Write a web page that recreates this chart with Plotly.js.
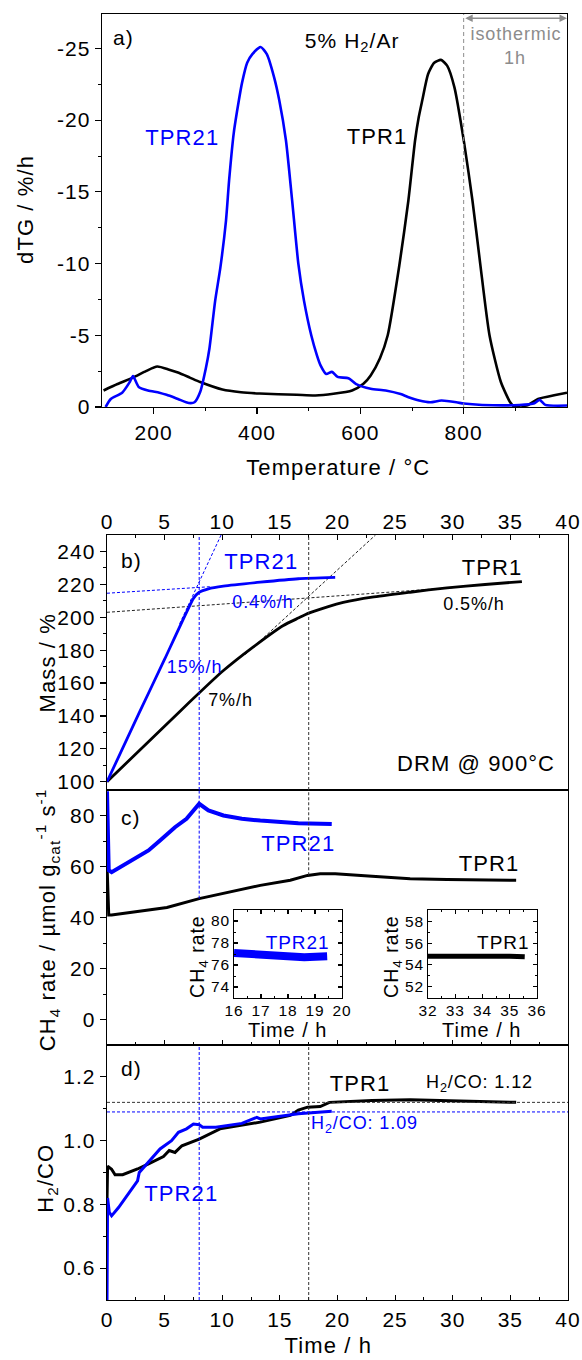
<!DOCTYPE html>
<html><head><meta charset="utf-8">
<script src="https://cdn.plot.ly/plotly-3.0.1.min.js"></script>
<style>html,body{margin:0;padding:0;background:#fff}#chart{width:582px;height:1360px}
#chart svg text{letter-spacing:0.05em}</style>
</head><body><div id="chart"></div>
<script>
// ---------------- DATA ----------------
// a) dTG vs temperature
const tempTPR1 = [103,130,160,185,207,230,247,270,290,333,369,405,477,513,548,584,606,620,638,653,676,693,706,713,720,731,743,756,768,782,801,817,832,850,872,890,897,910,922,944,980,1000];
const dtgTPR1  = [-1.15,-1.6,-2.05,-2.5,-2.82,-2.6,-2.4,-2.05,-1.74,-1.22,-1.03,-0.94,-0.85,-0.8,-0.92,-1.15,-1.62,-2.2,-3.4,-5.0,-10,-14.4,-18.6,-20.2,-21.4,-23.2,-24.0,-24.2,-23.8,-22.3,-18.4,-14.4,-10,-5,-1.74,-0.33,-0.05,-0.1,-0.1,-0.56,-0.85,-1.0];
const tempTPR21 = [107,117,139,153,160,171,189,211,225,247,268,279,290,301,308,319,329,340,346,355,365,371,381,391,407,419,433,443,456,468,480,491,505,516,523,534,545,556,577,592,620,649,678,692,714,735,757,786,800,836,908,937,947,958,1000];
const dtgTPR21  = [0,-0.56,-1.0,-1.7,-2.15,-1.4,-1.15,-1.0,-0.85,-0.56,-0.28,-0.33,-1.04,-2.7,-4.1,-7.4,-9.7,-13.0,-15.8,-19.1,-21.4,-22.6,-24.0,-24.6,-25.1,-24.6,-23.0,-21.4,-18.6,-14.4,-10,-7.4,-5.0,-3.6,-2.9,-2.3,-2.45,-2.1,-2.0,-1.6,-1.27,-1.15,-0.9,-0.7,-0.45,-0.33,-0.45,-0.33,-0.24,-0.14,-0.14,-0.26,-0.5,-0.15,-0.1];
const isoStart = 800, isoEnd = 1000;

// b) mass vs time
const timeMass21 = [0,2.8,5,7.5,8.0,8.8,10.1,13.3,16.6,19.8];
const mass21     = [100,142,174.5,211.5,215.2,217.3,218.9,221.3,223.4,224.2];
const timeMass1  = [0,6.5,10,12.7,15.3,16.6,17.5,19.2,20.5,23,26.3,29.5,32.8,36];
const mass1      = [100,144,167,182,195,199.5,202.5,206.5,209,212.2,215.2,217.9,219.9,221.7];
const tan21SteepT = [6.3,9.9],  tan21SteepM = [196,250];
const tan21FlatT  = [0,9],      tan21FlatM  = [214.6,218.6];
const tan1SteepT  = [12.0,23.3],tan1SteepM  = [177.4,250];
const tan1FlatT   = [0,30],     tan1FlatM   = [203,218];
const refTime21 = 8, refTime1 = 17.5;

// c) CH4 rate vs time
const timeCH4_21 = [0,0.15,0.4,1.4,2.65,3.6,4.6,5.9,6.9,8.0,8.8,10.1,11.7,13.3,16.6,19.5];
const ch4_21     = [89.5,58.5,57.8,60.5,63.7,66.3,70.2,75.4,78.7,84.6,82,80,78.7,78,77,76.7];
const timeCH4_1  = [0,0.15,0.4,3.6,5.2,8,10.1,13.3,15.9,17.4,18.5,19.8,23,26.3,29.5,35.5];
const ch4_1      = [61,41,41,42.9,43.9,47.4,49.4,52.6,54.6,56.5,57.2,57.2,56.2,55.2,54.9,54.6];
// insets
const inset21T = [16,16.8,17.7,18.6,19.45], inset21V = [77.1,76.95,76.7,76.7,76.8];
const inset1T  = [32,33,34,35,35.55],       inset1V  = [54.8,54.85,54.8,54.8,54.75];

// d) H2/CO vs time
const timeRatio1 = [0,0.05,0.4,0.7,1.36,2.65,3.6,4.9,5.4,5.9,6.5,8.0,9.8,13.3,15.9,16.6,17.4,18.5,19.3,23,26.3,29.5,35.5];
const ratio1     = [0.81,0.92,0.91,0.893,0.893,0.911,0.927,0.95,0.969,0.963,0.984,1.005,1.037,1.058,1.079,1.096,1.105,1.107,1.12,1.126,1.128,1.126,1.12];
const timeRatio21 = [0,0.05,0.2,0.4,1.0,2.0,2.65,2.8,3.6,4.6,5.6,6.2,6.9,7.5,8.0,8.3,9.45,11.7,13.0,13.3,16.6,19.5];
const ratio21     = [0.5,0.82,0.775,0.764,0.79,0.843,0.874,0.9,0.932,0.974,1.0,1.026,1.037,1.052,1.05,1.042,1.042,1.054,1.073,1.068,1.084,1.092];
const ratioRef1 = 1.12, ratioRef21 = 1.09;

// ticks
const tempTicks = [200,400,600,800], tempMinor = [300,500,700,900];
const dtgTicks = [0,-5,-10,-15,-20,-25], dtgTickText = ['0','-5','-10','-15','-20','-25'], dtgMinor = [-2.5,-7.5,-12.5,-17.5,-22.5];
const timeTicks = [0,5,10,15,20,25,30,35,40], timeMinor = [2.5,7.5,12.5,17.5,22.5,27.5,32.5,37.5];
const massTicks = [100,120,140,160,180,200,220,240], massMinor = [110,130,150,170,190,210,230];
const ch4Ticks = [0,20,40,60,80], ch4Minor = [10,30,50,70];
const ratioTicks = [0.6,0.8,1.0,1.2], ratioTickText = ['0.6','0.8','1.0','1.2'], ratioMinor = [0.7,0.9,1.1];
const in1XTicks = [16,17,18,19,20], in1XMinor = [16.5,17.5,18.5,19.5], in1YTicks = [74,76,78,80], in1YMinor = [75,77,79];
const in2XTicks = [32,33,34,35,36], in2XMinor = [32.5,33.5,34.5,35.5], in2YTicks = [52,54,56,58], in2YMinor = [53,55,57];

// ---------------- LAYOUT HELPERS ----------------
const W = 582, H = 1360;
const PX = x => x / W, PY = y => 1 - y / H;
const FONT = 'Arial, "Liberation Sans", sans-serif';
const BLUE = '#0000ff', BLACK = '#000000', GRAY = '#8c8c8c';

const XA = [PX(102), PX(567)], XB = [PX(107), PX(568)];
const YA = [PY(407), PY(14)], YBd = [PY(790), PY(535)], YC = [PY(1045), PY(790)], YD = [PY(1300), PY(1045)];
const XI1 = [PX(234), PX(342)], XI2 = [PX(428), PX(537)], YI = [PY(998), PY(910)];

function ax(o) {
  const a = {
    showgrid: false, zeroline: false, showline: true, linecolor: '#000', linewidth: 1.3,
    tickcolor: '#000', tickwidth: 1.2, ticklen: 6, fixedrange: true,
    tickfont: {family: FONT, size: 21, color: '#000'}, tickmode: 'array'
  };
  return Object.assign(a, o);
}
function minor(vals, ticks, len) { return {tickmode: 'array', tickvals: vals, ticks: ticks, ticklen: len, tickcolor: '#000', tickwidth: 1}; }

function interp(xs, ys, x) {
  for (let i = 1; i < xs.length; i++) if (x <= xs[i]) { const f = (x - xs[i-1]) / (xs[i] - xs[i-1]); return ys[i-1] + f * (ys[i] - ys[i-1]); }
  return ys[ys.length - 1];
}
const insetFont = {family: FONT, size: 15.5, color: '#000'};

const layout = {
  width: W, height: H, margin: {l: 0, r: 0, t: 0, b: 0},
  paper_bgcolor: '#fff', plot_bgcolor: 'rgba(0,0,0,0)', showlegend: false,
  font: {family: FONT, color: '#000'},
  // panel a
  xaxis: ax({domain: XA, anchor: 'y', range: [100, 1000], tickvals: tempTicks, ticks: 'outside', ticklen: 6, mirror: true, minor: minor(tempMinor, 'outside', 3)}),
  xaxis2: ax({overlaying: 'x', side: 'top', anchor: 'y', range: [100, 1000], tickvals: tempTicks, ticks: 'inside', ticklen: 6, showline: false, showticklabels: false}),
  yaxis: ax({domain: YA, anchor: 'x', range: [0, -27.4], tickvals: dtgTicks, ticktext: dtgTickText, ticks: 'outside', ticklen: 6, mirror: true, minor: minor(dtgMinor, 'outside', 3)}),
  yaxis2: ax({overlaying: 'y', side: 'right', anchor: 'x', range: [0, -27.4], tickvals: dtgTicks, ticks: 'inside', ticklen: 6, showline: false, showticklabels: false, minor: minor(dtgMinor, 'inside', 6)}),
  // panel b
  xaxis3: ax({domain: XB, anchor: 'y3', side: 'top', range: [0, 40], tickvals: timeTicks, ticks: 'inside', ticklen: 5, mirror: true, ticklabelstandoff: -4, minor: minor(timeMinor, 'inside', 3)}),
  xaxis4: ax({overlaying: 'x3', side: 'bottom', anchor: 'y3', range: [0, 40], tickvals: timeTicks, ticks: 'inside', ticklen: 5, showline: false, showticklabels: false, minor: minor(timeMinor, 'inside', 3)}),
  yaxis3: ax({domain: YBd, anchor: 'x3', range: [95, 250], tickvals: massTicks, ticks: 'outside', ticklen: 6, mirror: true, minor: minor(massMinor, 'outside', 3)}),
  yaxis4: ax({overlaying: 'y3', side: 'right', anchor: 'x3', range: [95, 250], tickvals: massTicks, ticks: 'inside', ticklen: 5, showline: false, showticklabels: false, minor: minor(massMinor, 'inside', 3)}),
  // panel c
  xaxis5: ax({domain: XB, anchor: 'y5', range: [0, 40], tickvals: timeTicks, ticks: 'inside', ticklen: 5, mirror: true, showticklabels: false, minor: minor(timeMinor, 'inside', 3)}),
  yaxis5: ax({domain: YC, anchor: 'x5', range: [-10, 90], tickvals: ch4Ticks, ticks: 'outside', ticklen: 6, mirror: true, minor: minor(ch4Minor, 'outside', 3)}),
  yaxis6: ax({overlaying: 'y5', side: 'right', anchor: 'x5', range: [-10, 90], tickvals: ch4Ticks, ticks: 'inside', ticklen: 5, showline: false, showticklabels: false, minor: minor(ch4Minor, 'inside', 3)}),
  // panel d
  xaxis6: ax({domain: XB, anchor: 'y7', range: [0, 40], tickvals: timeTicks, ticks: 'inside', ticklen: 5, mirror: true, minor: minor(timeMinor, 'inside', 3)}),
  yaxis7: ax({domain: YD, anchor: 'x6', range: [0.5, 1.3], tickvals: ratioTicks, ticktext: ratioTickText, ticks: 'outside', ticklen: 6, mirror: true, minor: minor(ratioMinor, 'outside', 3)}),
  yaxis8: ax({overlaying: 'y7', side: 'right', anchor: 'x6', range: [0.5, 1.3], tickvals: ratioTicks, ticks: 'inside', ticklen: 5, showline: false, showticklabels: false, minor: minor(ratioMinor, 'inside', 3)}),
  // insets
  xaxis7: ax({domain: XI1, anchor: 'y9', range: [16, 20], tickvals: in1XTicks, ticks: 'inside', ticklen: 4, linewidth: 1, mirror: 'allticks', tickfont: insetFont, ticklabelstandoff: -2, minor: minor(in1XMinor, 'inside', 2)}),
  yaxis9: ax({domain: YI, anchor: 'x7', range: [73, 81], tickvals: in1YTicks, ticks: 'inside', ticklen: 4, linewidth: 1, mirror: 'allticks', tickfont: insetFont, minor: minor(in1YMinor, 'inside', 2)}),
  xaxis8: ax({domain: XI2, anchor: 'y10', range: [32, 36], tickvals: in2XTicks, ticks: 'inside', ticklen: 4, linewidth: 1, mirror: 'allticks', tickfont: insetFont, ticklabelstandoff: -2, minor: minor(in2XMinor, 'inside', 2)}),
  yaxis10: ax({domain: YI, anchor: 'x8', range: [50.9, 59.1], tickvals: in2YTicks, ticks: 'inside', ticklen: 4, linewidth: 1, mirror: 'allticks', tickfont: insetFont, minor: minor(in2YMinor, 'inside', 2)}),
  shapes: [], annotations: []
};

// ---------------- TRACES ----------------
const L = (x, y, xa, ya, color, width, extra) => Object.assign({type: 'scatter', mode: 'lines', x: x, y: y, xaxis: xa, yaxis: ya, line: {color: color, width: width}, hoverinfo: 'skip', cliponaxis: true}, extra || {});
const dashed = (x, y, xa, ya, color) => L(x, y, xa, ya, color, 1, {line: {color: color, width: 1, dash: '3px,2px'}});

const traces = [
  L(tempTPR1, dtgTPR1, 'x', 'y', BLACK, 2.6, {line: {color: BLACK, width: 2.6, shape: 'spline', smoothing: 0.6}}),
  L(tempTPR21, dtgTPR21, 'x', 'y', BLUE, 2.6, {line: {color: BLUE, width: 2.6, shape: 'spline', smoothing: 0.6}}),
  // b
  dashed(tan21SteepT, tan21SteepM, 'x3', 'y3', BLUE),
  dashed(tan21FlatT, tan21FlatM, 'x3', 'y3', BLUE),
  dashed(tan1SteepT, tan1SteepM, 'x3', 'y3', '#222'),
  dashed(tan1FlatT, tan1FlatM, 'x3', 'y3', '#222'),
  L(timeMass1, mass1, 'x3', 'y3', BLACK, 2.8, {line: {color: BLACK, width: 2.8, shape: 'spline', smoothing: 0.5}}),
  L(timeMass21, mass21, 'x3', 'y3', BLUE, 2.8, {line: {color: BLUE, width: 2.8, shape: 'spline', smoothing: 0.4}}),
  // c
  L(timeCH4_1, ch4_1, 'x5', 'y5', BLACK, 3),
  L(timeCH4_21, ch4_21, 'x5', 'y5', BLUE, 4),
  // d
  L(timeRatio1, ratio1, 'x6', 'y7', BLACK, 3),
  L(timeRatio21, ratio21, 'x6', 'y7', BLUE, 3),
  // insets
  L(inset21T, inset21V, 'x7', 'y9', BLUE, 8),
  L(inset1T, inset1V, 'x8', 'y10', BLACK, 5)
];

// ---------------- SHAPES ----------------
const vline = (xref, x, yref, y0, y1, color, dash) => ({type: 'line', xref: xref, yref: yref, x0: x, x1: x, y0: y0, y1: y1, line: {color: color, width: 1, dash: dash}});
const hline = (yref, y, color) => ({type: 'line', xref: 'x6 domain', yref: yref, x0: 0, x1: 1, y0: y, y1: y, line: {color: color, width: 1, dash: '3px,2px'}});
layout.shapes.push(
  vline('x', isoStart, 'y domain', 0, 1, GRAY, '4px,3px'),
  vline('x3', refTime21, 'y3 domain', 0, 1, BLUE, '3px,2px'),
  vline('x3', refTime1, 'y3 domain', 0, 1, '#333', '3px,2px'),
  vline('x5', refTime21, 'y5', interp(timeCH4_1, ch4_1, refTime21), 90, BLUE, '3px,2px'),
  vline('x5', refTime1, 'y5', interp(timeCH4_1, ch4_1, refTime1), 90, '#333', '3px,2px'),
  vline('x6', refTime21, 'y7 domain', 0, 1, BLUE, '3px,2px'),
  vline('x6', refTime1, 'y7 domain', 0, 1, '#333', '3px,2px'),
  hline('y7', ratioRef1, '#333'),
  hline('y7', ratioRef21, BLUE)
);

// ---------------- ANNOTATIONS ----------------
function T(text, x, y, size, color, extra) {
  return Object.assign({text: text, xref: 'paper', yref: 'paper', x: PX(x), y: PY(y), xanchor: 'center', yanchor: 'middle', showarrow: false, font: {family: FONT, size: size, color: color || '#000'}}, extra || {});
}
layout.annotations.push(
  // axis titles
  T('dTG / %/h', 25, 210, 22, '#000', {textangle: -90}),
  T('Temperature / °C', 338, 467, 22),
  T('Mass / %', 47, 663, 22, '#000', {textangle: -90}),
  T('CH<sub>4</sub> rate / µmol g<sub>cat</sub><sup>-1</sup> s<sup>-1</sup>', 47, 920, 22, '#000', {textangle: -90}),
  T('H<sub>2</sub>/CO', 47, 1178, 22, '#000', {textangle: -90}),
  T('Time / h', 328, 1345, 22),
  // panel a
  T('a)', 123, 37, 21),
  T('5% H<sub>2</sub>/Ar', 352, 42, 21),
  T('TPR21', 182, 138, 22, BLUE),
  T('TPR1', 377, 137, 22),
  T('isothermic', 516, 34, 18, GRAY),
  T('1h', 515, 58, 18, GRAY),
  // panel b
  T('b)', 131, 560, 21),
  T('TPR21', 261, 561, 22, BLUE),
  T('TPR1', 492, 567, 22),
  T('0.4%/h', 263, 602, 18, BLUE),
  T('0.5%/h', 474, 604, 18),
  T('15%/h', 194, 667, 18, BLUE),
  T('7%/h', 230, 700, 18),
  T('DRM @ 900°C', 476, 763, 22),
  // panel c
  T('c)', 131, 817, 21),
  T('TPR21', 298, 843, 22, BLUE),
  T('TPR1', 489, 863, 22),
  T('TPR21', 297, 942, 19, BLUE),
  T('TPR1', 503, 942, 19),
  T('CH<sub>4</sub> rate', 198, 957, 19.5, '#000', {textangle: -90}),
  T('CH<sub>4</sub> rate', 392, 957, 19.5, '#000', {textangle: -90}),
  T('Time / h', 288, 1030, 20),
  T('Time / h', 482, 1030, 20),
  // panel d
  T('d)', 131, 1068, 21),
  T('TPR1', 360, 1083, 22),
  T('H<sub>2</sub>/CO: 1.12', 479, 1083, 18),
  T('H<sub>2</sub>/CO: 1.09', 364, 1124, 18, BLUE),
  T('TPR21', 181, 1193, 22, BLUE)
);
// isothermic double arrows
[-27.1, 0.35].forEach(yv => layout.annotations.push({
  xref: 'x', yref: 'y', axref: 'x', ayref: 'y', x: isoEnd, y: yv, ax: isoStart, ay: yv, text: '',
  showarrow: true, arrowside: 'end+start', arrowhead: 2, startarrowhead: 2, arrowsize: 1, startarrowsize: 1, arrowwidth: 1.5, arrowcolor: GRAY, standoff: 0, startstandoff: 0
}));

Plotly.newPlot('chart', traces, layout, {staticPlot: true, displayModeBar: false});
</script></body></html>
